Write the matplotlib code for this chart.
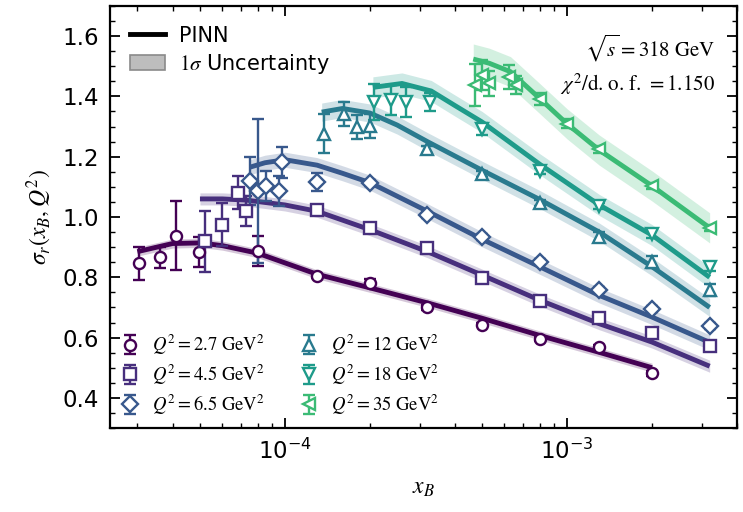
import numpy as np
import matplotlib
matplotlib.use("Agg")
import matplotlib.pyplot as plt
from matplotlib.lines import Line2D
from matplotlib.patches import Patch
from matplotlib.ticker import MultipleLocator, LogLocator

plt.rcParams['mathtext.fontset'] = 'stix'
plt.rcParams['font.family'] = ['DejaVu Sans']

# ---- measured reduced cross sections, one block per Q^2 bin ----
q2_labels = ['2.7', '4.5', '6.5', '12', '18', '35']

x_27 = [3.05e-5, 3.62e-5, 4.1e-5, 4.97e-5, 8.0e-5, 1.3e-4, 2.0e-4, 3.2e-4, 5.0e-4, 8.0e-4, 1.3e-3, 2.0e-3]
y_27 = [0.847, 0.867, 0.938, 0.884, 0.888, 0.804, 0.782, 0.700, 0.643, 0.596, 0.568, 0.481]
e_27 = [0.055, 0.035, 0.115, 0.05, 0.05, 0.008, 0.012, 0.008, 0.006, 0.006, 0.008, 0.008]

x_45 = [5.2e-5, 6.0e-5, 6.8e-5, 7.3e-5, 1.3e-4, 2.0e-4, 3.2e-4, 5.0e-4, 8.0e-4, 1.3e-3, 2.0e-3, 3.2e-3]
y_45 = [0.919, 0.975, 1.081, 1.019, 1.022, 0.964, 0.897, 0.796, 0.721, 0.666, 0.614, 0.571]
e_45 = [0.10, 0.07, 0.055, 0.05, 0.01, 0.01, 0.01, 0.008, 0.008, 0.008, 0.008, 0.008]

x_65 = [7.5e-5, 8.0e-5, 8.6e-5, 9.5e-5, 9.8e-5, 1.3e-4, 2.0e-4, 3.2e-4, 5.0e-4, 8.0e-4, 1.3e-3, 2.0e-3, 3.2e-3]
y_65 = [1.119, 1.086, 1.103, 1.086, 1.181, 1.116, 1.114, 1.008, 0.933, 0.852, 0.759, 0.696, 0.640]
e_65 = [0.08, 0.24, 0.05, 0.05, 0.05, 0.03, 0.01, 0.01, 0.01, 0.01, 0.01, 0.01, 0.01]

x_12 = [1.38e-4, 1.62e-4, 1.8e-4, 2.0e-4, 3.2e-4, 5.0e-4, 8.0e-4, 1.3e-3, 2.0e-3, 3.2e-3]
y_12 = [1.276, 1.342, 1.298, 1.303, 1.225, 1.142, 1.047, 0.935, 0.852, 0.757]
e_12 = [0.065, 0.04, 0.04, 0.04, 0.012, 0.01, 0.01, 0.015, 0.02, 0.02]

x_18 = [2.07e-4, 2.37e-4, 2.68e-4, 3.28e-4, 5.0e-4, 8.0e-4, 1.3e-3, 2.0e-3, 3.2e-3]
y_18 = [1.382, 1.387, 1.382, 1.382, 1.292, 1.153, 1.038, 0.944, 0.835]
e_18 = [0.06, 0.05, 0.05, 0.03, 0.02, 0.01, 0.01, 0.015, 0.015]

x_35 = [4.7e-4, 5.0e-4, 5.3e-4, 6.2e-4, 6.6e-4, 8.0e-4, 1.0e-3, 1.3e-3, 2.0e-3, 3.2e-3]
y_35 = [1.437, 1.470, 1.443, 1.465, 1.437, 1.393, 1.309, 1.225, 1.103, 0.964]
e_35 = [0.07, 0.05, 0.04, 0.04, 0.03, 0.02, 0.015, 0.012, 0.01, 0.01]

# ---- PINN prediction and its 1 sigma band ----
cx_27 = [3.0e-5, 4.0e-5, 5.0e-5, 6.0e-5, 8.0e-5, 1.3e-4, 2.0e-4, 3.2e-4, 5.0e-4, 8.0e-4, 1.3e-3, 2.0e-3]
cy_27 = [0.885, 0.912, 0.914, 0.905, 0.880, 0.810, 0.765, 0.715, 0.664, 0.607, 0.551, 0.500]

cx_45 = [5.0e-5, 6.0e-5, 7.3e-5, 1.0e-4, 1.3e-4, 2.0e-4, 3.2e-4, 5.0e-4, 8.0e-4, 1.3e-3, 2.0e-3, 3.2e-3]
cy_45 = [1.060, 1.060, 1.056, 1.040, 1.019, 0.958, 0.885, 0.807, 0.724, 0.646, 0.585, 0.505]

cx_65 = [7.5e-5, 8.5e-5, 1.0e-4, 1.3e-4, 1.6e-4, 2.0e-4, 3.2e-4, 5.0e-4, 8.0e-4, 1.3e-3, 2.0e-3, 3.2e-3]
cy_65 = [1.165, 1.180, 1.190, 1.172, 1.145, 1.114, 1.019, 0.926, 0.835, 0.740, 0.668, 0.584]

cx_12 = [1.35e-4, 1.6e-4, 2.0e-4, 2.5e-4, 3.2e-4, 5.0e-4, 8.0e-4, 1.3e-3, 2.0e-3, 3.2e-3]
cy_12 = [1.348, 1.360, 1.345, 1.305, 1.250, 1.155, 1.058, 0.950, 0.835, 0.700]

cx_18 = [2.05e-4, 2.6e-4, 3.3e-4, 4.0e-4, 5.0e-4, 8.0e-4, 1.3e-3, 2.0e-3, 3.2e-3]
cy_18 = [1.430, 1.443, 1.418, 1.370, 1.315, 1.175, 1.040, 0.940, 0.800]

cx_35 = [4.65e-4, 5.3e-4, 6.3e-4, 8.0e-4, 1.0e-3, 1.3e-3, 2.0e-3, 3.2e-3]
cy_35 = [1.524, 1.510, 1.482, 1.393, 1.309, 1.222, 1.103, 0.964]

band_width = [0.015, 0.02, 0.025, 0.03, 0.035, 0.05]

data = [(x_27, y_27, e_27), (x_45, y_45, e_45), (x_65, y_65, e_65),
        (x_12, y_12, e_12), (x_18, y_18, e_18), (x_35, y_35, e_35)]
curves = [(cx_27, cy_27), (cx_45, cy_45), (cx_65, cy_65),
          (cx_12, cy_12), (cx_18, cy_18), (cx_35, cy_35)]
markers = ['o', 's', 'D', '^', 'v', '<']
msizes = [8, 8, 8, 9, 9, 9]
colors = plt.cm.viridis(np.linspace(0.0, 0.68, 6))

fig = plt.figure(figsize=(7.43, 5.12), dpi=100)
ax = fig.add_axes([110 / 743, 1 - 428 / 512, 627 / 743, 422 / 512])
ax.set_xscale('log')

handles = []
for i in range(6):
    cx, cy = np.array(curves[i][0]), np.array(curves[i][1])
    ax.fill_between(cx, cy - band_width[i], cy + band_width[i],
                    color=colors[i], alpha=0.22, lw=0, zorder=1)
    ax.plot(cx, cy, color=colors[i], lw=3.5, zorder=2, solid_capstyle='butt',
            solid_joinstyle='round')
    x, y, e = data[i]
    h = ax.errorbar(x, y, yerr=e, fmt=markers[i], ms=msizes[i], mfc='white',
                    mec=colors[i], mew=1.7, ecolor=colors[i], elinewidth=1.7,
                    capsize=4, capthick=1.7, zorder=3,
                    label=r'$Q^2 = %s$ GeV$^2$' % q2_labels[i])
    handles.append(h)

ax.set_xlim(2.4e-5, 4.0e-3)
ax.set_ylim(0.3, 1.7)
ax.yaxis.set_major_locator(MultipleLocator(0.2))
ax.yaxis.set_minor_locator(MultipleLocator(0.05))
ax.xaxis.set_minor_locator(LogLocator(base=10, subs=np.arange(2, 10)))

ax.tick_params(which='both', direction='in', top=True, right=True, labelsize=16.5)
ax.tick_params(which='major', length=7, width=1.3, pad=8)
ax.tick_params(which='minor', length=3.5, width=1.0)
for s in ax.spines.values():
    s.set_linewidth(1.6)

ax.set_xlabel(r'$x_B$', fontsize=17, labelpad=8)
ax.set_ylabel(r'$\sigma_r(x_B, Q^2)$', fontsize=17, labelpad=6)

# data legend, two columns at the bottom
leg_data = ax.legend(handles=handles, ncol=2, loc='lower left',
                     bbox_to_anchor=(0.0, 0.0), frameon=False,
                     prop={'family': 'STIXGeneral', 'size': 13.4},
                     handlelength=1.0, handletextpad=0.65, columnspacing=1.9,
                     labelspacing=0.3, borderaxespad=0.2)
ax.add_artist(leg_data)

# model legend at the top
model_handles = [Line2D([0], [0], color='black', lw=3.5),
                 Patch(facecolor='#bdbdbd', edgecolor='#8a8a8a', lw=1.2)]
ax.legend(model_handles, ['PINN', r'$1\sigma$ Uncertainty'], loc='upper left',
          frameon=False, fontsize=15, handlelength=1.7, handletextpad=0.65,
          labelspacing=0.3, borderaxespad=0.55)

ax.text(0.965, 0.9, r'$\sqrt{s}=318$ GeV', transform=ax.transAxes,
        ha='right', va='center', fontsize=15, family='STIXGeneral')
ax.text(0.965, 0.815, r'$\chi^2$/d. o. f. $=1.150$', transform=ax.transAxes,
        ha='right', va='center', fontsize=15, family='STIXGeneral')

fig.savefig('out.png', dpi=100)
